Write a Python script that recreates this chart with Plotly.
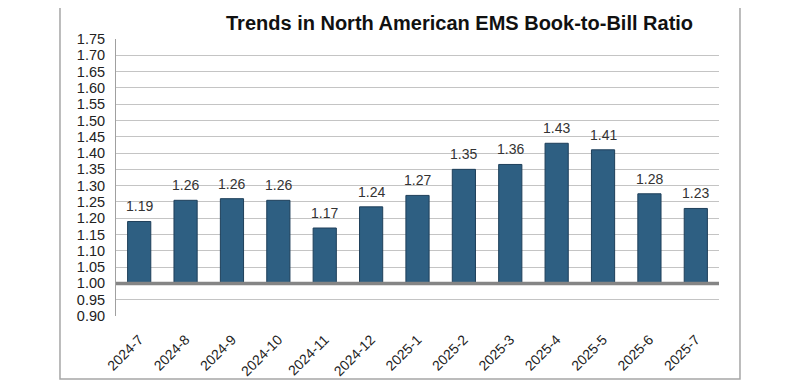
import plotly.graph_objects as go

categories = ["2024-7", "2024-8", "2024-9", "2024-10", "2024-11", "2024-12",
              "2025-1", "2025-2", "2025-3", "2025-4", "2025-5", "2025-6", "2025-7"]
values = [1.19, 1.255, 1.26, 1.255, 1.17, 1.235, 1.27, 1.35, 1.365, 1.43, 1.41, 1.275, 1.23]
labels = ["1.19", "1.26", "1.26", "1.26", "1.17", "1.24", "1.27", "1.35", "1.36",
          "1.43", "1.41", "1.28", "1.23"]
yticks = [0.90 + 0.05 * i for i in range(18)]
base_value = 1.0

FONT = "Liberation Sans, Arial, sans-serif"

fig = go.Figure()
fig.add_trace(go.Bar(
    x=categories,
    y=[v - base_value for v in values],
    base=base_value,
    width=0.5,
    marker=dict(color="#2E5F82", line=dict(color="#1E3F5A", width=1)),
    hoverinfo="skip",
))

for c, v, t in zip(categories, values, labels):
    fig.add_annotation(x=c, y=v, text=t, showarrow=False, yanchor="bottom",
                       yshift=5, font=dict(family=FONT, size=14, color="#333333"))

fig.add_shape(type="line", xref="paper", x0=0, x1=1, y0=base_value, y1=base_value,
              line=dict(color="#858585", width=3.5), layer="above")

fig.add_shape(type="rect", xref="paper", yref="paper", x0=-0.0929, x1=1.0348,
              y0=-0.2274, y1=1.1155, line=dict(color="#A6A6A6", width=1.5))

fig.add_annotation(xref="paper", yref="paper", x=0.569, y=1.1155 - 16 / 277,
                   text="<b>Trends in North American EMS Book-to-Bill Ratio</b>",
                   showarrow=False, xanchor="center", yanchor="middle",
                   font=dict(family=FONT, size=20, color="#111111"))

fig.update_layout(
    width=792, height=377,
    margin=dict(l=108, r=81, t=31, b=69, autoexpand=False),
    paper_bgcolor="white", plot_bgcolor="white",
    showlegend=False,
    bargap=0.5,
    font=dict(family=FONT, size=14, color="#222222"),
)
fig.update_xaxes(type="category", range=[-0.5, 12.5], tickangle=-45, showgrid=False,
                 showline=False, ticks="outside", ticklen=9,
                 tickcolor="rgba(0,0,0,0)", automargin=False,
                 tickfont=dict(family=FONT, size=14, color="#222222"))
fig.update_yaxes(range=[0.9, 1.75], tickvals=yticks,
                 ticktext=[f"{v:.2f}" for v in yticks],
                 showgrid=True, gridcolor="#C4C4C4", gridwidth=1,
                 showline=True, linecolor="#A0A0A0", linewidth=1,
                 ticks="outside", ticklen=7, tickcolor="rgba(0,0,0,0)",
                 zeroline=False, automargin=False,
                 tickfont=dict(family=FONT, size=14.5, color="#222222"))

fig.write_html("out.html")
